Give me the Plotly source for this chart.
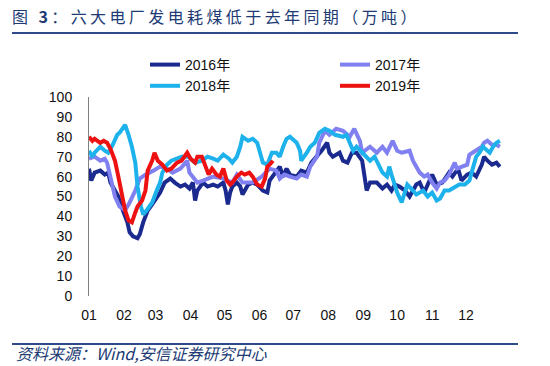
import plotly.graph_objects as go

# ---------------- data (day of year, 万吨) ----------------
days_2016 = [0,2,5,10,14,17,19,22,26,30,34,36,39,43,45,48,52,56,60,63,67,72,76,81,85,89,92,94,96,101,105,110,114,119,121,123,125,127,131,134,136,141,145,149,154,158,160,165,169,172,175,178,184,188,193,197,202,206,211,213,216,220,222,225,229,233,237,242,244,246,249,255,260,264,268,271,275,280,284,290,293,297,304,308,313,319,322,327,330,335,339,343,348,350,353,357,361,364]
coal_2016 = [64,58,62,63,61,62,57,54,50,43,37,32,30,29,31,37,43,46,49,52,57,59,57,55,56,54,57,48,53,57,55,56,55,57,53,46,52,55,57,55,51,56,57,56,53,52,58,62,65,60,64,61,60,63,62,67,70,73,77,72,70,71,72,68,67,72,72,68,60,53,57,57,54,56,53,56,55,53,50,56,57,52,61,56,57,62,60,64,58,61,62,60,66,70,68,66,67,65]

days_2017 = [0,5,10,14,16,19,23,27,32,36,41,45,50,57,63,69,74,81,87,89,92,96,101,110,119,127,131,136,145,153,160,166,169,173,178,184,188,193,196,202,204,209,213,219,225,231,235,240,242,249,255,260,264,269,273,277,284,287,290,293,297,300,304,308,311,315,319,324,326,330,335,337,340,343,348,350,353,357,361,364]
coal_2017 = [69,70,68,69,67,60,50,45,43,47,53,59,61,63,65,64,62,64,68,62,60,57,58,60,59,57,61,57,57,60,64,63,59,61,60,59,61,60,65,70,77,83,81,84,83,80,84,78,72,75,72,75,72,78,73,72,73,68,65,62,60,61,57,54,57,58,61,67,64,65,66,71,72,73,75,77,78,76,76,75]

days_2018 = [0,3,5,10,14,17,21,25,27,30,32,35,38,41,43,46,48,51,56,60,63,65,69,73,78,82,88,94,100,105,110,114,119,124,127,131,134,136,141,145,149,151,154,158,162,166,169,172,175,178,184,187,188,193,196,200,204,209,213,218,225,228,231,234,237,242,249,253,258,260,264,266,268,273,277,282,287,290,296,300,304,308,311,315,319,324,328,333,337,340,343,346,349,351,355,358,361,364]
coal_2018 = [73,70,72,75,73,72,76,81,82,84,86,81,75,67,55,45,41,43,47,53,57,62,66,68,69,70,70,67,68,70,69,68,71,69,67,70,75,80,78,79,77,73,67,66,72,72,70,75,79,80,77,73,68,72,75,77,82,84,83,81,80,81,77,73,75,72,68,70,65,62,60,65,61,52,47,56,53,51,53,50,52,48,49,53,53,55,56,56,58,64,70,72,75,74,72,75,77,78]

days_2019 = [0,3,5,10,13,16,19,23,26,29,32,35,38,41,43,47,50,52,56,58,61,65,69,73,78,82,87,90,94,96,100,104,106,109,113,116,119,122,125,127,131,135,138,142,145,149,153,156,158,160,163]
coal_2019 = [80,78,79,77,78,77,74,68,60,52,43,38,37,42,45,48,53,63,68,72,68,66,63,64,67,68,72,69,67,70,70,64,61,64,61,60,64,58,56,57,60,62,61,62,60,56,55,59,65,66,68]

month_starts = [0,31,59,90,120,151,181,212,243,273,304,334]
month_labels = ["01","02","03","04","05","06","07","08","09","10","11","12"]
series_names = ["2016年","2017年","2018年","2019年"]

# ---------------- layout geometry (pixels) ----------------
W, H = 550, 366
L, R, T, B = 89, 49, 97, 70
pw, ph = W - L - R, H - T - B

def px_x(x):
    return (x - L) / pw

def px_y(y):
    return (H - B - y) / ph

colors = ["#1B2A8E", "#8080F0", "#1EB2EC", "#EE1111"]
all_days = [days_2016, days_2017, days_2018, days_2019]
all_vals = [coal_2016, coal_2017, coal_2018, coal_2019]

fig = go.Figure()
for name, d, v, c in zip(series_names, all_days, all_vals, colors):
    fig.add_trace(go.Scatter(x=d, y=v, mode="lines", name=name,
                             line=dict(color=c, width=4)))

navy = "#203A74"
axis_grey = "#7F7F7F"
fig.update_layout(
    template="none",
    width=W, height=H,
    margin=dict(l=L, r=R, t=T, b=B, autoexpand=False),
    paper_bgcolor="white", plot_bgcolor="white",
    font=dict(family="Liberation Sans, Arial, sans-serif", size=14, color="#111111"),
    title=dict(text="图 <b>3</b>：六大电厂发电耗煤低于去年同期（万吨）",
               x=12 / W, xanchor="left", xref="container",
               y=1 - 17 / H, yanchor="middle", yref="container",
               pad=dict(l=0, r=0, t=0, b=0),
               font=dict(family="Noto Sans CJK SC, Liberation Sans, sans-serif", size=16, color=navy)),
    showlegend=True,
    legend=dict(orientation="h", x=px_x(145), xanchor="left", y=px_y(49), yanchor="top",
                entrywidth=145, entrywidthmode="pixels",
                font=dict(family="Liberation Sans, Noto Sans CJK SC, sans-serif", size=14, color="#111111"),
                bgcolor="rgba(0,0,0,0)", borderwidth=0, traceorder="normal"),
    xaxis=dict(range=[0, 365], tickvals=month_starts, ticktext=month_labels,
               showgrid=False, zeroline=False, showline=False, ticks="",
               ticklabelstandoff=9, automargin=False,
               tickfont=dict(size=14, color="#111111")),
    yaxis=dict(range=[0, 100], dtick=10, showgrid=False, zeroline=False,
               showline=True, linecolor=axis_grey, linewidth=1,
               ticks="outside", ticklen=13, tickcolor="rgba(0,0,0,0)",
               automargin=False,
               tickfont=dict(size=14, color="#111111")),
    yaxis2=dict(range=[0, 100], dtick=10, overlaying="y", anchor="x", side="left",
                showgrid=False, zeroline=False, showline=False, showticklabels=False,
                ticks="inside", ticklen=4, tickcolor=axis_grey, automargin=False),
    shapes=[
        dict(type="line", xref="paper", yref="paper", x0=px_x(12), x1=px_x(518),
             y0=px_y(33), y1=px_y(33), line=dict(color="#2E4A88", width=2)),
        dict(type="line", xref="paper", yref="paper", x0=px_x(12), x1=px_x(518),
             y0=px_y(344), y1=px_y(344), line=dict(color="#2E4A88", width=2)),
    ],
    annotations=[
        dict(text="资料来源：Wind,安信证券研究中心", xref="paper", yref="paper",
             x=px_x(14), y=px_y(353), xanchor="left", yanchor="middle", showarrow=False,
             font=dict(family="Noto Sans CJK SC, Liberation Sans, sans-serif", size=16, color=navy, style="italic")),
    ],
)

post = """
var s=document.createElement('style');
s.innerHTML='body{margin:0;padding:0;} .gtitle{letter-spacing:3.4px;}';
document.head.appendChild(s);
"""
fig.write_html("out.html", post_script=post, config={"displayModeBar": False})
